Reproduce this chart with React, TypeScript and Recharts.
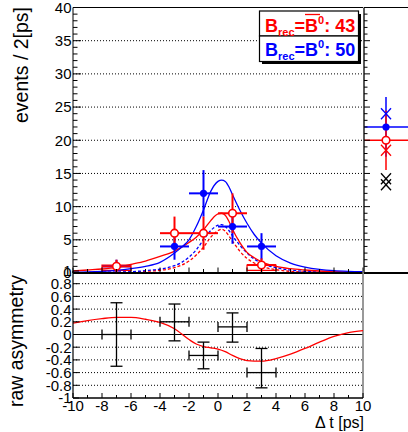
import React from 'react';
import {
  ComposedChart,
  Line,
  Scatter,
  XAxis,
  YAxis,
  ErrorBar,
  ReferenceLine,
  ReferenceArea,
} from 'recharts';

const FONT = '"Liberation Sans", Arial, Helvetica, sans-serif';
const RED = '#ff0000';
const BLUE = '#0000ff';

// ---------- data ----------
const binCenters = [-7, -3, -1, 1, 3];
const binHalfWidth = 1;
const blueCounts = [1, 4, 12, 7, 4];
const blueErr = [1, 2, 3.5, 2.6, 2];
const redCounts = [1, 6, 6, 9, 1.2];
const redErr = [1, 2.5, 2.5, 3, 1];

const fitX = [-10, -9, -8, -7, -6, -5, -4, -3, -2.5, -2, -1.5, -1, -0.5, 0, 0.25, 0.5, 0.75, 1, 1.5, 2, 2.5, 3, 4, 5, 6, 7, 8, 9, 10];
const blueFit = [0.1, 0.15, 0.25, 0.4, 0.65, 1.0, 1.6, 3.0, 3.9, 5.0, 7.0, 9.5, 12.3, 13.8, 14.0, 13.8, 13.0, 11.8, 9.5, 7.5, 5.8, 4.5, 2.6, 1.5, 0.9, 0.55, 0.35, 0.25, 0.2];
const redFit = [0.3, 0.45, 0.6, 0.85, 1.3, 1.8, 2.5, 3.3, 3.9, 4.6, 5.4, 6.5, 7.9, 8.9, 9.0, 8.7, 7.8, 6.6, 4.6, 3.1, 2.3, 1.7, 1.0, 0.65, 0.45, 0.3, 0.2, 0.15, 0.1];
const blueSignal = [0.05, 0.07, 0.1, 0.14, 0.2, 0.35, 0.6, 1.1, 1.6, 2.4, 3.5, 5.0, 6.4, 7.2, 7.3, 7.0, 6.4, 5.6, 4.2, 3.0, 2.1, 1.5, 0.8, 0.45, 0.25, 0.15, 0.1, 0.07, 0.05];
const redSignal = [0.03, 0.05, 0.07, 0.1, 0.15, 0.25, 0.4, 0.8, 1.2, 1.8, 2.7, 3.9, 5.4, 6.4, 6.6, 6.3, 5.6, 4.8, 3.3, 2.2, 1.5, 1.0, 0.5, 0.25, 0.15, 0.1, 0.05, 0.03, 0.02];

const redBoxes = [
  { x1: -8, x2: -6, y1: 0.4, y2: 1.2 },
  { x1: 2, x2: 4, y1: 0.4, y2: 1.2 },
];

const asymValues = [0, 0.2, -0.33, 0.12, -0.6];
const asymErrLow = [0.5, 0.3, 0.21, 0.24, 0.24];
const asymErrHigh = [0.5, 0.28, 0.21, 0.22, 0.38];

const asymFitX = [-10, -9, -8, -7, -6, -5, -4, -3, -2, -1.5, -1, -0.5, 0, 0.5, 1, 1.5, 2, 3, 4, 5, 6, 7, 8, 9, 10];
const asymFit = [0.18, 0.22, 0.25, 0.27, 0.27, 0.24, 0.19, 0.09, -0.08, -0.15, -0.19, -0.21, -0.23, -0.27, -0.33, -0.38, -0.41, -0.42, -0.38, -0.31, -0.22, -0.12, -0.03, 0.03, 0.06];

const sideBlue = 22;
const sideBlueErr = 4.5;
const sideRed = 20;
const sideRedErr = 4.5;
const sideBlueX = [24];
const sideRedX = [18.5];
const sideBlackX = [14.2, 13.3];

const xTicks = Array.from({ length: 21 }, (_, i) => i - 10);
const yTopTicks = Array.from({ length: 41 }, (_, i) => i);
const yTopGrid = [5, 10, 15, 20, 25, 30, 35];
const yBotTicks = [-1, -0.8, -0.6, -0.4, -0.2, 0, 0.2, 0.4, 0.6, 0.8, 1];
const yBotGrid = [-0.8, -0.6, -0.4, -0.2, 0.2, 0.4, 0.6, 0.8];

// ---------- derived tables ----------
const toLine = (xs: number[], ys: number[]) => xs.map((x, i) => ({ x, y: ys[i] }));
const blueFitData = toLine(fitX, blueFit);
const redFitData = toLine(fitX, redFit);
const blueSigData = toLine(fitX, blueSignal);
const redSigData = toLine(fitX, redSignal);
const asymFitData = toLine(asymFitX, asymFit);

const bluePts = binCenters.map((x, i) => ({ x, y: blueCounts[i], ey: blueErr[i], ex: binHalfWidth }));
const redPts = binCenters.map((x, i) => ({ x, y: redCounts[i], ey: redErr[i], ex: binHalfWidth }));
const asymPts = binCenters.map((x, i) => ({
  x,
  y: asymValues[i],
  ey: [asymErrLow[i], asymErrHigh[i]],
  ex: binHalfWidth,
}));

const sideBluePt = [{ x: 1, y: sideBlue, ey: sideBlueErr, ex: 1 }];
const sideRedPt = [{ x: 1, y: sideRed, ey: sideRedErr, ex: 1 }];
const sideBlueXPts = sideBlueX.map((y) => ({ x: 1, y }));
const sideRedXPts = sideRedX.map((y) => ({ x: 1, y }));
const sideBlackXPts = sideBlackX.map((y) => ({ x: 1, y }));

// ---------- shapes / ticks ----------
const BlueDot = (p: any) => <circle cx={p.cx} cy={p.cy} r={3.6} fill={BLUE} />;
const RedRing = (p: any) => (
  <circle cx={p.cx} cy={p.cy} r={3.8} fill="#fff" stroke={RED} strokeWidth={1.6} />
);
const NoMark = () => <g />;
const makeX = (color: string) => (p: any) => {
  const s = 5;
  return (
    <g stroke={color} strokeWidth={1.3}>
      <line x1={p.cx - s} y1={p.cy - s * 1.1} x2={p.cx + s} y2={p.cy + s * 1.1} />
      <line x1={p.cx - s} y1={p.cy + s * 1.1} x2={p.cx + s} y2={p.cy - s * 1.1} />
    </g>
  );
};
const BlueX = makeX(BLUE);
const RedX = makeX(RED);
const BlackX = makeX('#000');

const YTickTop = (p: any) => {
  const v = p.payload.value;
  const major = v % 5 === 0;
  return (
    <g>
      <line x1={p.x} x2={p.x + (major ? 8 : 4.5)} y1={p.y} y2={p.y} stroke="#000" />
      {major && (
        <text x={p.x - 1.5} y={p.y} dy="0.36em" textAnchor="end" fontFamily={FONT} fontSize={15} fill="#000">
          {v}
        </text>
      )}
    </g>
  );
};

const YTickSide = (p: any) => {
  const v = p.payload.value;
  const major = v % 5 === 0;
  return <line x1={p.x} x2={p.x + (major ? 6 : 3.5)} y1={p.y} y2={p.y} stroke="#000" />;
};

const YTickBot = (p: any) => {
  const v = p.payload.value;
  const label = Number.isInteger(v) ? String(v) : v.toFixed(1);
  return (
    <g>
      <line x1={p.x} x2={p.x + 6} y1={p.y} y2={p.y} stroke="#000" />
      <text x={p.x - 1.5} y={p.y} dy="0.36em" textAnchor="end" fontFamily={FONT} fontSize={15} fill="#000">
        {label}
      </text>
    </g>
  );
};

const XTickTop = (p: any) => {
  const v = p.payload.value;
  const major = v % 2 === 0;
  return <line x1={p.x} x2={p.x} y1={p.y} y2={p.y - (major ? 5.5 : 4)} stroke="#000" />;
};

const XTickBot = (p: any) => {
  const v = p.payload.value;
  const major = v % 2 === 0;
  return (
    <g>
      <line x1={p.x} x2={p.x} y1={p.y} y2={p.y - (major ? 5 : 3)} stroke="#000" />
      {major && (
        <text x={p.x} y={p.y + 13} textAnchor="middle" fontFamily={FONT} fontSize={15} fill="#000">
          {v}
        </text>
      )}
    </g>
  );
};

const layer: React.CSSProperties = { position: 'absolute', left: 0, top: 0 };

export default function App() {
  return (
    <div style={{ position: 'absolute', left: 0, top: 0, width: 408, height: 432, background: '#fff', overflow: 'hidden' }}>
      {/* main top panel */}
      <div style={layer}>
        <ComposedChart width={408} height={300} margin={{ top: 7.5, right: 45, bottom: 26, left: 0 }}>
          <XAxis
            type="number"
            dataKey="x"
            domain={[-10, 10]}
            ticks={xTicks}
            interval={0}
            height={1}
            tickSize={0}
            tickMargin={0}
            tickLine={false}
            tick={<XTickTop />}
            axisLine={{ stroke: '#000', strokeWidth: 2 }}
            allowDataOverflow
          />
          <YAxis
            type="number"
            dataKey="y"
            domain={[0, 40]}
            ticks={yTopTicks}
            interval={0}
            width={73}
            tickSize={0}
            tickMargin={0}
            tickLine={false}
            tick={<YTickTop />}
            axisLine={{ stroke: '#000' }}
            allowDataOverflow
          />
          {yTopGrid.map((v) => (
            <ReferenceLine key={v} y={v} stroke="#000" strokeWidth={1} strokeDasharray="1 2" />
          ))}
          <ReferenceLine y={40} stroke="#000" strokeWidth={1.2} />
          {redBoxes.map((b, i) => (
            <ReferenceArea key={i} x1={b.x1} x2={b.x2} y1={b.y1} y2={b.y2} fill="none" fillOpacity={0} stroke={RED} strokeWidth={1.2} />
          ))}
          <Line data={redSigData} dataKey="y" type="monotone" stroke={RED} strokeWidth={1.3} strokeDasharray="3 2" dot={false} isAnimationActive={false} />
          <Line data={blueSigData} dataKey="y" type="monotone" stroke={BLUE} strokeWidth={1.3} strokeDasharray="3 2" dot={false} isAnimationActive={false} />
          <Line data={redFitData} dataKey="y" type="monotone" stroke={RED} strokeWidth={1.3} dot={false} isAnimationActive={false} />
          <Line data={blueFitData} dataKey="y" type="monotone" stroke={BLUE} strokeWidth={1.3} dot={false} isAnimationActive={false} />
          <Scatter data={bluePts} dataKey="y" shape={BlueDot} isAnimationActive={false}>
            <ErrorBar dataKey="ey" direction="y" width={0} stroke={BLUE} strokeWidth={2} />
            <ErrorBar dataKey="ex" direction="x" width={0} stroke={BLUE} strokeWidth={2} />
          </Scatter>
          <Scatter data={redPts} dataKey="y" shape={RedRing} isAnimationActive={false}>
            <ErrorBar dataKey="ey" direction="y" width={0} stroke={RED} strokeWidth={2} />
            <ErrorBar dataKey="ex" direction="x" width={0} stroke={RED} strokeWidth={2} />
          </Scatter>
        </ComposedChart>
      </div>

      {/* side panel */}
      <div style={layer}>
        <ComposedChart width={408} height={300} margin={{ top: 7.5, right: 0, bottom: 26, left: 363 }}>
          <XAxis type="number" dataKey="x" domain={[0, 2]} height={1} tick={false} tickLine={false} axisLine={{ stroke: '#000', strokeWidth: 2 }} allowDataOverflow />
          <YAxis
            type="number"
            dataKey="y"
            domain={[0, 40]}
            ticks={yTopTicks}
            interval={0}
            width={1}
            tickSize={0}
            tickMargin={0}
            tickLine={false}
            tick={<YTickSide />}
            axisLine={{ stroke: '#222', strokeWidth: 1.5 }}
            allowDataOverflow
          />
          <ReferenceLine y={40} stroke="#000" strokeWidth={1.2} />
          <Scatter data={sideBluePt} dataKey="y" shape={BlueDot} isAnimationActive={false}>
            <ErrorBar dataKey="ey" direction="y" width={0} stroke={BLUE} strokeWidth={1.5} />
            <ErrorBar dataKey="ex" direction="x" width={0} stroke={BLUE} strokeWidth={1.5} />
          </Scatter>
          <Scatter data={sideRedPt} dataKey="y" shape={RedRing} isAnimationActive={false}>
            <ErrorBar dataKey="ey" direction="y" width={0} stroke={RED} strokeWidth={1.5} />
            <ErrorBar dataKey="ex" direction="x" width={0} stroke={RED} strokeWidth={1.5} />
          </Scatter>
          <Scatter data={sideBlueXPts} dataKey="y" shape={BlueX} isAnimationActive={false} />
          <Scatter data={sideRedXPts} dataKey="y" shape={RedX} isAnimationActive={false} />
          <Scatter data={sideBlackXPts} dataKey="y" shape={BlackX} isAnimationActive={false} />
        </ComposedChart>
      </div>

      {/* asymmetry panel */}
      <div style={layer}>
        <ComposedChart width={408} height={432} margin={{ top: 271, right: 45, bottom: 0, left: 0 }}>
          <XAxis
            type="number"
            dataKey="x"
            domain={[-10, 10]}
            ticks={xTicks}
            interval={0}
            height={34}
            tickSize={0}
            tickMargin={0}
            tickLine={false}
            tick={<XTickBot />}
            axisLine={{ stroke: '#000', strokeWidth: 1.5 }}
            allowDataOverflow
          />
          <YAxis
            type="number"
            dataKey="y"
            domain={[-1, 1]}
            ticks={yBotTicks}
            interval={0}
            width={73}
            tickSize={0}
            tickMargin={0}
            tickLine={false}
            tick={<YTickBot />}
            axisLine={{ stroke: '#000', strokeWidth: 1.2 }}
            allowDataOverflow
          />
          {yBotGrid.map((v) => (
            <ReferenceLine key={v} y={v} stroke="#000" strokeWidth={1} strokeDasharray="1 2" />
          ))}
          <ReferenceLine y={0} stroke="#000" strokeWidth={1.2} />
          <ReferenceLine x={10} stroke="#777" strokeWidth={1.5} />
          <Line data={asymFitData} dataKey="y" type="monotone" stroke={RED} strokeWidth={1.3} dot={false} isAnimationActive={false} />
          <Scatter data={asymPts} dataKey="y" shape={NoMark} isAnimationActive={false}>
            <ErrorBar dataKey="ey" direction="y" width={6} stroke="#000" strokeWidth={1.3} />
            <ErrorBar dataKey="ex" direction="x" width={5} stroke="#000" strokeWidth={1.3} />
          </Scatter>
        </ComposedChart>
      </div>

      {/* titles and legend */}
      <svg width={408} height={432} style={{ ...layer, pointerEvents: 'none' }}>
        <text
          transform="translate(28,65) rotate(-90)"
          textAnchor="middle"
          fontFamily={FONT}
          fontSize={19.5}
          fill="#000"
        >
          events / 2[ps]
        </text>
        <text
          transform="translate(23,341) rotate(-90)"
          textAnchor="middle"
          fontFamily={FONT}
          fontSize={19.5}
          fill="#000"
        >
          raw asymmetry
        </text>
        <text x={364} y={428} textAnchor="end" fontFamily={FONT} fontSize={16} fill="#000">
          Δ t [ps]
        </text>

        {/* legend */}
        <rect x={262} y={14} width={99} height={50} fill="#000" />
        <rect x={259.5} y={11} width={99} height={25} fill="#fff" stroke="#000" strokeWidth={1.2} />
        <rect x={259.5} y={36} width={99} height={25.5} fill="#fff" stroke="#000" strokeWidth={1.2} />
        <text x={265} y={31.5} fontFamily={FONT} fontSize={18} fontWeight="bold" fill={RED}>
          B
          <tspan fontSize={11} dy={4}>rec</tspan>
          <tspan dy={-4}>=B</tspan>
          <tspan fontSize={11} dy={-8}>0</tspan>
          <tspan dy={8}>: 43</tspan>
        </text>
        <line x1={305} x2={320} y1={14.5} y2={14.5} stroke={RED} strokeWidth={1.3} />
        <text x={265} y={55.5} fontFamily={FONT} fontSize={18} fontWeight="bold" fill={BLUE}>
          B
          <tspan fontSize={11} dy={4}>rec</tspan>
          <tspan dy={-4}>=B</tspan>
          <tspan fontSize={11} dy={-8}>0</tspan>
          <tspan dy={8}>: 50</tspan>
        </text>
      </svg>
    </div>
  );
}
